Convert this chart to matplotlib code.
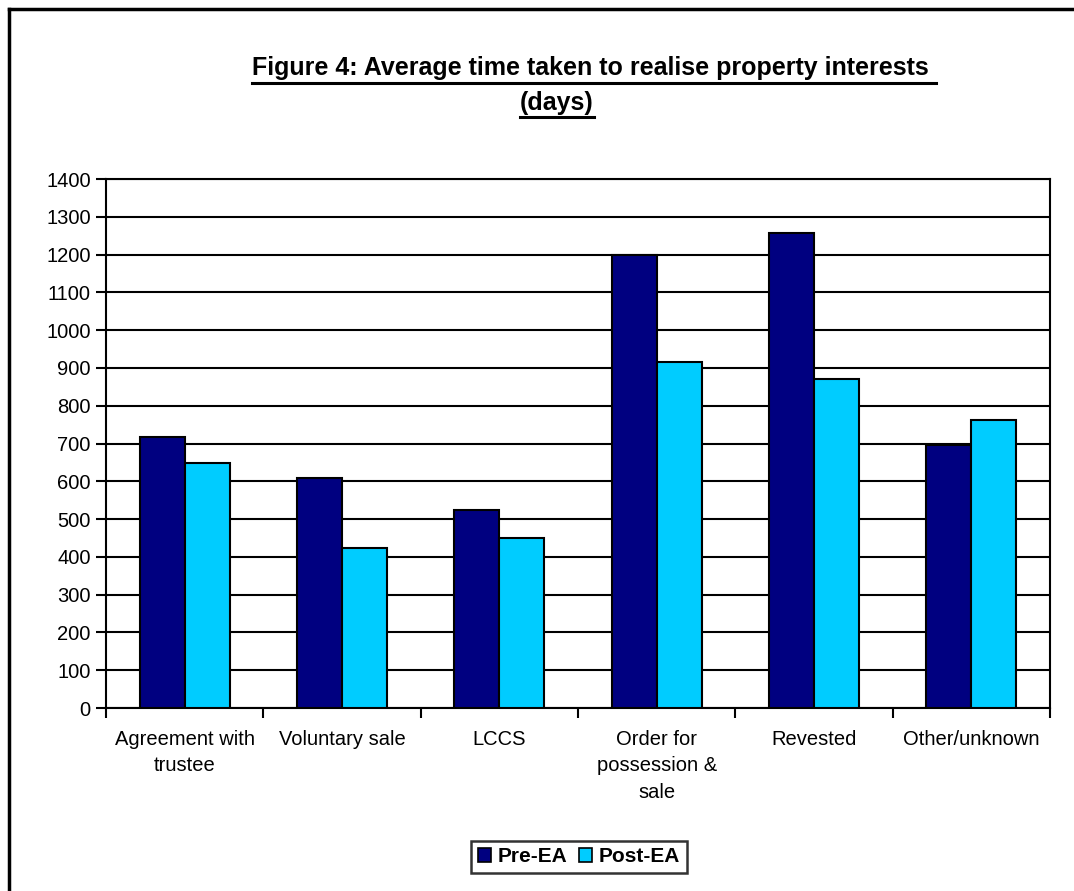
import matplotlib
matplotlib.use("Agg")
import matplotlib.pyplot as plt
import numpy as np
from matplotlib.patches import Patch
from matplotlib.lines import Line2D

categories = ["Agreement with\ntrustee", "Voluntary sale", "LCCS",
              "Order for\npossession &\nsale", "Revested", "Other/unknown"]
pre_ea = [718, 609, 525, 1200, 1256, 697]
post_ea = [649, 424, 449, 915, 871, 761]
series_names = ["Pre-EA", "Post-EA"]
colors = ["#000080", "#00CCFF"]
yticks = list(range(0, 1401, 100))
title_lines = ["Figure 4: Average time taken to realise property interests ", "(days)"]

plt.rcParams['font.family'] = ['Liberation Sans', 'DejaVu Sans']

W, H = 1074, 891
fig = plt.figure(figsize=(W/100, H/100), dpi=100)
ax = fig.add_axes([106/W, 1-708/H, (1050-106)/W, (708-179)/H])

n = len(categories)
x = np.arange(n)
bw = 1/3.5
ax.bar(x - bw/2, pre_ea, bw, color=colors[0], edgecolor="black", linewidth=1.5, zorder=3)
ax.bar(x + bw/2, post_ea, bw, color=colors[1], edgecolor="black", linewidth=1.5, zorder=3)

ax.set_xlim(-0.5, n-0.5)
ax.set_ylim(0, 1400)
ax.set_yticks(yticks)
ax.set_yticklabels([str(v) for v in yticks], fontsize=14.5)
ax.yaxis.grid(True, color="black", linewidth=1.5, zorder=0)
ax.set_axisbelow(True)
for s in ax.spines.values():
    s.set_linewidth(1.5)
    s.set_color("black")
ax.tick_params(axis="y", direction="out", length=7, width=1.5, pad=4)
ax.set_xticks(np.arange(-0.5, n, 1.0))
ax.set_xticklabels([])
ax.tick_params(axis="x", direction="out", length=7, width=1.5)
for i, c in enumerate(categories):
    ax.text(i, -58, c, ha="center", va="top", fontsize=14.5, linespacing=1.5,
            transform=ax.transData)

# title lines with underline
fig.canvas.draw()
r = fig.canvas.get_renderer()
specs = [(252/W, "left", 75, 83), (557/W, "center", 110, 117)]
for txt, (xx, ha, yb, yu) in zip(title_lines, specs):
    t = fig.text(xx, 1-yb/H, txt, ha=ha, va="baseline", fontsize=18,
                 fontweight="bold")
    bb = t.get_window_extent(r)
    fig.add_artist(Line2D([bb.x0/W, bb.x1/W], [1-yu/H, 1-yu/H], color="black", linewidth=2.2))

# outer frame (left and top)
fig.add_artist(Line2D([9/W, 9/W], [0, 1-9/H], color="black", linewidth=2.5))
fig.add_artist(Line2D([9/W, 1], [1-9/H, 1-9/H], color="black", linewidth=2.5))

handles = [Patch(facecolor=colors[0], edgecolor="black", linewidth=1.2),
           Patch(facecolor=colors[1], edgecolor="black", linewidth=1.2)]
leg = fig.legend(handles, series_names, loc="center", bbox_to_anchor=(579/W, 1-857/H),
                 ncol=2, frameon=True, fancybox=False, edgecolor="black",
                 prop={"weight": "bold", "size": 15}, handlelength=0.63, handleheight=0.63,
                 handletextpad=0.34, columnspacing=0.55, borderpad=0.3, borderaxespad=0)
leg.get_frame().set_linewidth(1.8)

fig.savefig("out.png", dpi=100, facecolor="white")
